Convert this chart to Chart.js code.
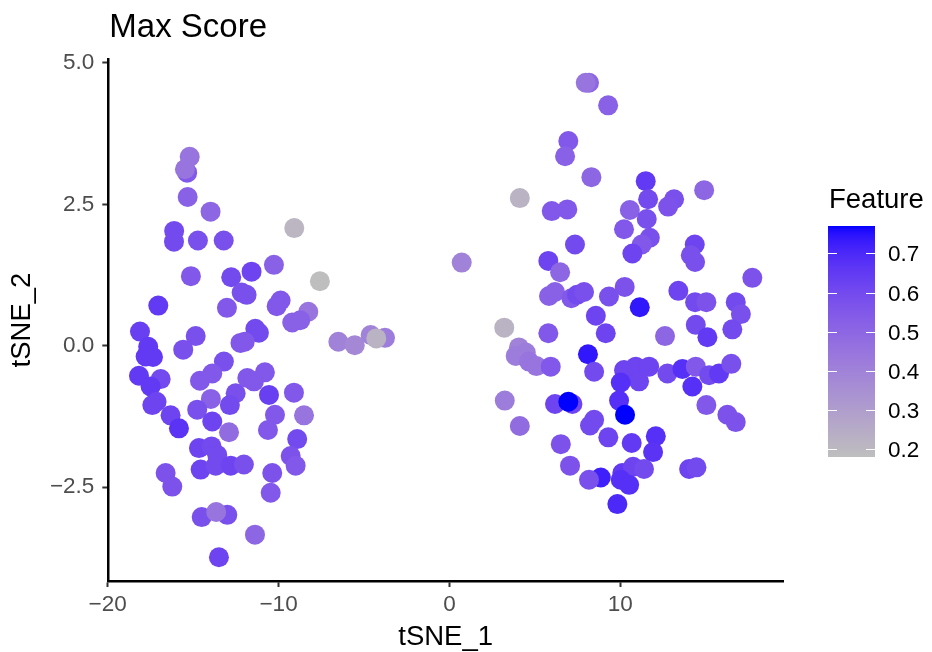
<!DOCTYPE html>
<html>
<head>
<meta charset="utf-8">
<title>Max Score</title>
<script src="https://cdn.jsdelivr.net/npm/chart.js@4/dist/chart.umd.min.js"></script>
<style>
  html, body { margin: 0; padding: 0; background: #ffffff; }
  #wrap { width: 932px; height: 652px; position: relative; }
</style>
</head>
<body>
<div id="wrap"><canvas id="plot" width="932" height="652"></canvas></div>
<script>
// t-SNE embedding of cells with their feature score
const tsne1 = [
  -15.35, -15.48, -15.20, -15.32, -13.98, -9.08, -16.11, -16.12, -14.72, -13.21,
  -10.27, -15.13, -12.77, -11.58, -7.58, -12.16, -11.87, -9.88, -10.11, -17.04,
  -13.02, -8.26, -9.20, -8.73, -18.11, -14.85, -11.36, -11.15, -12.23, -11.98,
  -6.50, -17.63, -15.58, -17.35, -17.78, -13.20, -18.17, -16.90, -17.49, -14.60,
  -13.88, -11.83, -10.80, -11.44, -17.14, -17.39, -13.96, -12.51, -12.85, -14.76,
  -10.56, -9.10, -16.32, -15.83, -13.88, -10.21, -10.62, -8.51, -12.90, -8.91,
  -14.66, -13.92, -13.59, -9.29, -9.00, -14.56, -13.68, -12.80, -12.03, -16.61,
  -16.22, -10.37, -10.46, -14.50, -13.00, -13.65, -11.38, -13.49,
  -5.54, -4.61, -3.77, -4.28, 0.72,
  8.17, 7.98, 9.29, 6.96, 6.77, 8.31, 11.49, 14.91, 4.12, 5.99,
  6.90, 11.63, 13.15, 12.80, 10.56, 11.55, 10.22, 11.73, 11.26, 7.35,
  10.71, 14.36, 14.13, 14.38, 5.79, 6.48, 17.73, 5.83, 6.18, 7.14,
  7.47, 7.88, 9.34, 10.26, 11.14, 13.40, 14.38, 15.04, 16.76, 17.06,
  8.57, 9.15, 3.21, 5.79, 12.62, 14.42, 15.10, 16.56, 4.07, 4.47,
  3.88, 4.66, 5.09, 5.93, 8.11, 8.47, 10.22, 10.91, 11.69, 11.10,
  10.03, 12.76, 13.64, 14.42, 15.20, 15.78, 16.50, 14.22, 3.24, 4.12,
  6.18, 7.20, 6.96, 9.93, 10.28, 15.04, 16.27, 16.76, 8.47, 8.23,
  9.30, 10.67, 12.08, 11.92, 6.52, 7.06, 8.86, 8.17, 10.12, 10.75,
  11.39, 10.03, 10.52, 14.03, 14.46, 9.83
];
const tsne2 = [
  3.06, 3.12, 3.34, 2.63, 2.37, 2.08, 2.03, 1.84, 1.86, 1.86,
  1.43, 1.23, 1.21, 1.31, 1.14, 0.94, 0.90, 0.80, 0.70, 0.71,
  0.67, 0.60, 0.41, 0.45, 0.25, 0.17, 0.30, 0.23, 0.05, 0.07,
  0.07, -0.02, -0.07, -0.20, -0.19, -0.28, -0.53, -0.59, -0.72, -0.62,
  -0.49, -0.57, -0.47, -0.63, -0.99, -1.05, -0.94, -0.84, -1.05, -1.13,
  -0.87, -0.83, -1.23, -1.46, -1.34, -1.22, -1.49, -1.23, -1.53, -1.65,
  -1.81, -1.78, -1.93, -1.95, -2.12, -2.19, -2.12, -2.12, -2.10, -2.25,
  -2.49, -2.25, -2.60, -3.03, -2.99, -2.94, -3.34, -3.74,
  0.01, 0.19, 0.14, 0.13, 1.47,
  4.65, 4.65, 4.25, 3.62, 3.35, 2.98, 2.91, 2.75, 2.61, 2.38,
  2.41, 2.59, 2.59, 2.46, 2.40, 2.24, 2.06, 1.91, 1.79, 1.79,
  1.63, 1.79, 1.60, 1.48, 1.50, 1.30, 1.20, 0.88, 0.95, 0.84,
  0.90, 0.95, 0.87, 1.04, 0.68, 0.97, 0.77, 0.77, 0.77, 0.56,
  0.53, 0.22, 0.32, 0.22, 0.17, 0.37, 0.15, 0.29, -0.03, -0.12,
  -0.18, -0.28, -0.36, -0.37, -0.15, -0.46, -0.43, -0.37, -0.37, -0.63,
  -0.65, -0.49, -0.41, -0.37, -0.52, -0.49, -0.32, -0.72, -0.97, -1.42,
  -1.03, -1.03, -0.99, -0.97, -1.22, -1.05, -1.22, -1.35, -1.31, -1.41,
  -1.62, -1.72, -1.60, -1.88, -1.74, -2.12, -2.33, -2.37, -2.25, -2.14,
  -2.18, -2.37, -2.46, -2.18, -2.15, -2.80
];
const featureScore = [
  0.55, 0.45, 0.45, 0.52, 0.50, 0.21, 0.60, 0.60, 0.58, 0.58,
  0.52, 0.55, 0.60, 0.62, 0.18, 0.58, 0.58, 0.55, 0.55, 0.65,
  0.55, 0.45, 0.52, 0.52, 0.63, 0.58, 0.60, 0.60, 0.55, 0.55,
  0.40, 0.65, 0.58, 0.65, 0.65, 0.58, 0.65, 0.60, 0.65, 0.55,
  0.55, 0.55, 0.55, 0.55, 0.62, 0.62, 0.52, 0.58, 0.60, 0.58,
  0.63, 0.55, 0.62, 0.67, 0.62, 0.55, 0.55, 0.45, 0.48, 0.60,
  0.62, 0.60, 0.60, 0.57, 0.55, 0.62, 0.60, 0.62, 0.58, 0.57,
  0.57, 0.57, 0.55, 0.58, 0.58, 0.45, 0.50, 0.62,
  0.38, 0.40, 0.42, 0.22, 0.40,
  0.50, 0.45, 0.52, 0.55, 0.52, 0.50, 0.65, 0.50, 0.22, 0.55,
  0.55, 0.60, 0.58, 0.57, 0.52, 0.58, 0.55, 0.58, 0.55, 0.60,
  0.62, 0.62, 0.58, 0.58, 0.62, 0.50, 0.57, 0.52, 0.52, 0.55,
  0.60, 0.58, 0.58, 0.57, 0.74, 0.62, 0.60, 0.57, 0.60, 0.58,
  0.62, 0.62, 0.22, 0.55, 0.50, 0.60, 0.65, 0.60, 0.40, 0.42,
  0.42, 0.45, 0.45, 0.55, 0.74, 0.60, 0.62, 0.62, 0.62, 0.62,
  0.68, 0.60, 0.68, 0.55, 0.60, 0.65, 0.58, 0.68, 0.42, 0.48,
  0.62, 0.62, 0.77, 0.68, 0.77, 0.55, 0.57, 0.57, 0.60, 0.60,
  0.62, 0.65, 0.68, 0.67, 0.57, 0.57, 0.72, 0.58, 0.65, 0.62,
  0.60, 0.68, 0.68, 0.62, 0.60, 0.70
];

const xTicks = [-20, -10, 0, 10];
const yTicks = [-2.5, 0, 2.5, 5];
const legendTicks = [0.2, 0.3, 0.4, 0.5, 0.6, 0.7];

const plotTitle = 'Max Score';
const xTitle = 'tSNE_1';
const yTitle = 'tSNE_2';
const legendTitle = 'Feature';

// ---- colour ramp (interpolated in CIE Lab, grey -> blue) ----
const LOW = [190, 190, 190];
const HIGH = [0, 0, 255];
function toLin(c) { c /= 255; return c <= 0.04045 ? c / 12.92 : Math.pow((c + 0.055) / 1.055, 2.4); }
function toSrgb(c) {
  const v = c <= 0.0031308 ? 12.92 * c : 1.055 * Math.pow(c, 1 / 2.4) - 0.055;
  return Math.round(Math.max(0, Math.min(1, v)) * 255);
}
const Xn = 0.95047, Yn = 1.0, Zn = 1.08883;
function f(t) { return t > 0.008856 ? Math.cbrt(t) : 7.787 * t + 16 / 116; }
function finv(t) { const t3 = t * t * t; return t3 > 0.008856 ? t3 : (t - 16 / 116) / 7.787; }
function rgb2lab(rgb) {
  const r = toLin(rgb[0]), g = toLin(rgb[1]), b = toLin(rgb[2]);
  const X = 0.4124 * r + 0.3576 * g + 0.1805 * b;
  const Y = 0.2126 * r + 0.7152 * g + 0.0722 * b;
  const Z = 0.0193 * r + 0.1192 * g + 0.9505 * b;
  const fx = f(X / Xn), fy = f(Y / Yn), fz = f(Z / Zn);
  return [116 * fy - 16, 500 * (fx - fy), 200 * (fy - fz)];
}
function lab2rgb(lab) {
  const fy = (lab[0] + 16) / 116, fx = fy + lab[1] / 500, fz = fy - lab[2] / 200;
  const X = Xn * finv(fx), Y = Yn * finv(fy), Z = Zn * finv(fz);
  const r = 3.2406 * X - 1.5372 * Y - 0.4986 * Z;
  const g = -0.9689 * X + 1.8758 * Y + 0.0415 * Z;
  const b = 0.0557 * X - 0.2040 * Y + 1.0570 * Z;
  return [toSrgb(r), toSrgb(g), toSrgb(b)];
}
const labLow = rgb2lab(LOW), labHigh = rgb2lab(HIGH);
const vMin = Math.min(...featureScore), vMax = Math.max(...featureScore);
function colourFor(v) {
  const t = Math.max(0, Math.min(1, (v - vMin) / (vMax - vMin)));
  const lab = [0, 1, 2].map(i => labLow[i] + (labHigh[i] - labLow[i]) * t);
  const c = lab2rgb(lab);
  return 'rgb(' + c[0] + ',' + c[1] + ',' + c[2] + ')';
}

// ---- axis limits with 5% padding on each side ----
function expanded(arr) {
  const lo = Math.min(...arr), hi = Math.max(...arr), pad = (hi - lo) * 0.05;
  return [lo - pad, hi + pad];
}
const [xMin, xMax] = expanded(tsne1);
const [yMin, yMax] = expanded(tsne2);

const points = tsne1.map((x, i) => ({ x: x, y: tsne2[i] }));
const colours = featureScore.map(colourFor);

const FONT = '"Liberation Sans", Arial, Helvetica, sans-serif';
const minus = s => String(s).replace('-', '\u2212');

// title + colour bar legend
const decorations = {
  id: 'decorations',
  afterDraw(chart) {
    const ctx = chart.ctx;
    ctx.save();
    ctx.fillStyle = '#000000';
    ctx.font = '33px ' + FONT;
    ctx.textAlign = 'left';
    ctx.textBaseline = 'alphabetic';
    ctx.fillText(plotTitle, chart.chartArea.left + 1, 37);

    // legend
    const bx = 828, bw = 47, top = 226, bottom = 457;
    ctx.font = '27.5px ' + FONT;
    ctx.fillText(legendTitle, 829, 208);
    const h = bottom - top;
    for (let i = 0; i < h; i++) {
      const v = vMax - (vMax - vMin) * (i + 0.5) / h;
      ctx.fillStyle = colourFor(v);
      ctx.fillRect(bx, top + i, bw, 1);
    }
    ctx.font = '22.5px ' + FONT;
    ctx.textBaseline = 'middle';
    legendTicks.forEach(t => {
      const y = Math.round(top + (vMax - t) / (vMax - vMin) * h) + 0.5;
      ctx.strokeStyle = '#ffffff';
      ctx.lineWidth = 1;
      ctx.beginPath();
      ctx.moveTo(bx, y); ctx.lineTo(bx + 9, y);
      ctx.moveTo(bx + bw - 9, y); ctx.lineTo(bx + bw, y);
      ctx.stroke();
      ctx.fillStyle = '#000000';
      ctx.fillText(t.toFixed(1), 888, y + 1);
    });
    ctx.restore();
  }
};

new Chart(document.getElementById('plot'), {
  type: 'scatter',
  data: {
    datasets: [{
      data: points,
      pointBackgroundColor: colours,
      pointBorderWidth: 0,
      pointRadius: 10,
      pointHoverRadius: 10
    }]
  },
  options: {
    responsive: false,
    animation: false,
    events: [],
    layout: { padding: { left: 0, right: 149, top: 59, bottom: 0 } },
    plugins: { legend: { display: false }, tooltip: { enabled: false }, title: { display: false } },
    scales: {
      x: {
        type: 'linear',
        min: xMin, max: xMax,
        afterFit(s) { s.height = 71; },
        afterBuildTicks(s) { s.ticks = xTicks.map(v => ({ value: v })); },
        ticks: {
          callback: v => minus(v),
          color: '#4d4d4d',
          font: { family: FONT, size: 22.5 },
          padding: 4,
          maxRotation: 0
        },
        grid: { drawOnChartArea: false, drawTicks: true, tickLength: 6, tickColor: '#333333', tickWidth: 2 },
        border: { display: true, color: '#000000', width: 2.5 },
        title: {
          display: true, text: xTitle, color: '#000000',
          font: { family: FONT, size: 27.5, lineHeight: 1 },
          padding: { top: 0, bottom: 1 }
        }
      },
      y: {
        type: 'linear',
        min: yMin, max: yMax,
        afterFit(s) { s.width = 108.3; },
        afterBuildTicks(s) { s.ticks = yTicks.map(v => ({ value: v })); },
        ticks: {
          callback: v => minus(v.toFixed(1)),
          color: '#4d4d4d',
          font: { family: FONT, size: 22.5 },
          padding: 8
        },
        grid: { drawOnChartArea: false, drawTicks: true, tickLength: 6, tickColor: '#333333', tickWidth: 2 },
        border: { display: true, color: '#000000', width: 2.5 },
        title: {
          display: true, text: yTitle, color: '#000000',
          font: { family: FONT, size: 27.5, lineHeight: 1 },
          padding: { top: 9, bottom: 0 }
        }
      }
    }
  },
  plugins: [decorations]
});
</script>
</body>
</html>
